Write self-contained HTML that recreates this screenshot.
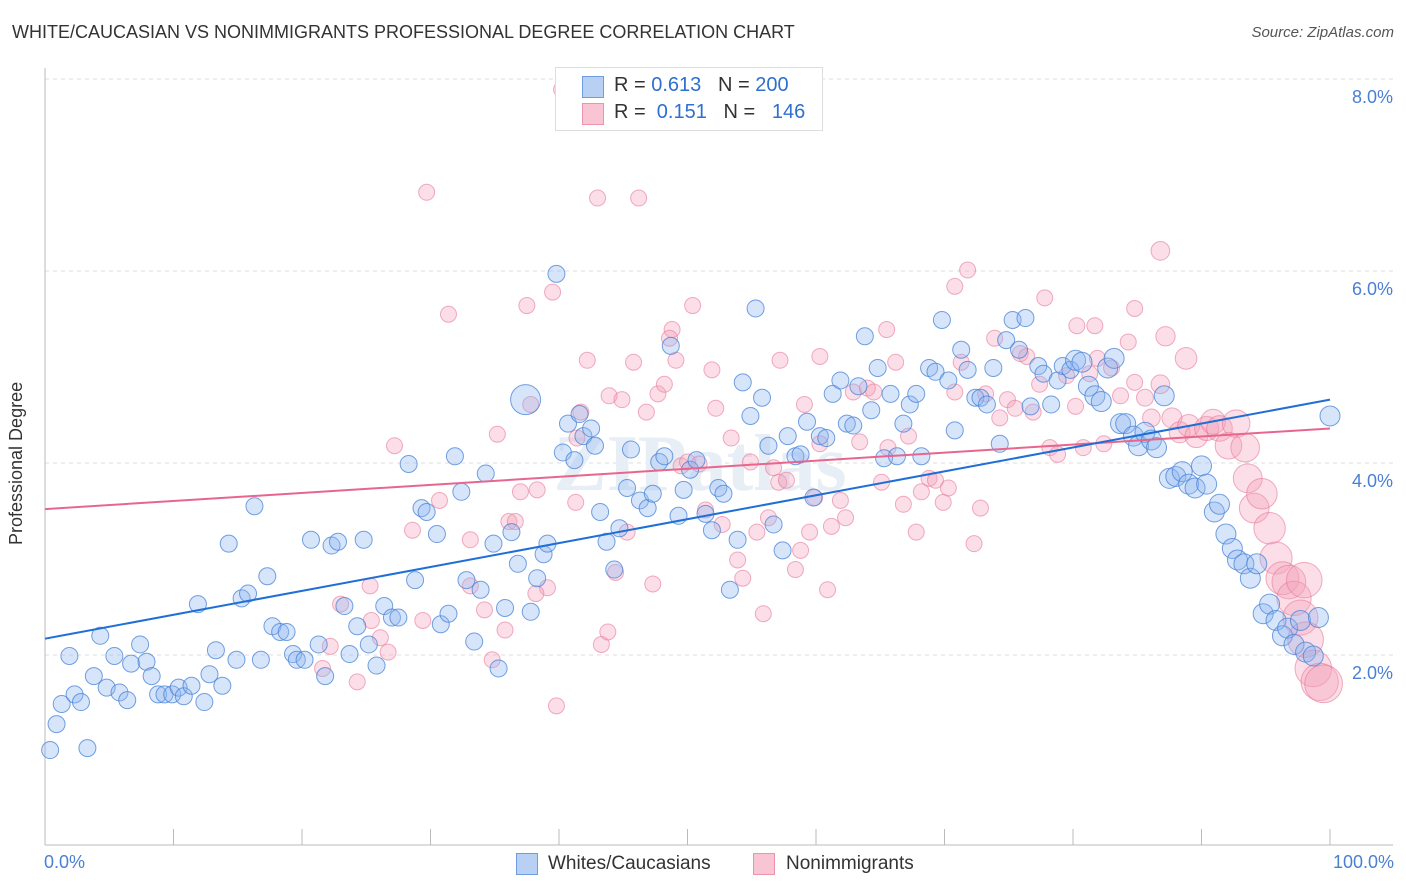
<!DOCTYPE html>
<html><head><meta charset="utf-8">
<style>
body{margin:0;background:#fff;font-family:"Liberation Sans",sans-serif;}
#wrap{position:relative;width:1406px;height:892px;overflow:hidden;}
.t{position:absolute;white-space:nowrap;}
</style></head>
<body>
<div id="wrap">
<div class="t" style="left:12px;top:22px;font-size:18px;color:#333;">WHITE/CAUCASIAN VS NONIMMIGRANTS PROFESSIONAL DEGREE CORRELATION CHART</div>
<div class="t" style="right:12px;top:24px;font-size:15px;color:#555;font-style:italic;">Source: ZipAtlas.com</div>
<svg id="plot" width="1406" height="892" style="position:absolute;left:0;top:0"></svg>
</div>
<script>
const xTicks=[0,10,20,30,40,50,60,70,80,90,100];
const yTicks=[2,4,6,8];
const yTickLabels=["2.0%","4.0%","6.0%","8.0%"];
const blueX=[0.4,0.9,1.3,1.9,2.3,2.8,3.3,3.8,4.3,4.8,5.4,5.8,6.4,6.7,7.4,7.9,8.3,8.8,9.3,9.9,10.4,10.8,11.4,11.9,12.4,12.8,13.3,13.8,14.3,14.9,15.3,15.8,16.3,16.8,17.3,17.7,18.3,18.8,19.3,19.6,20.2,20.7,21.3,21.8,22.3,22.8,23.3,23.7,24.3,24.8,25.2,25.8,26.4,27.0,27.5,28.3,28.8,29.3,29.7,30.5,30.8,31.4,31.9,32.4,32.8,33.4,33.9,34.3,34.9,35.3,35.8,36.3,36.8,37.4,37.8,38.3,38.8,39.1,39.8,40.3,40.7,41.2,41.6,41.9,42.5,42.8,43.2,43.7,44.3,44.7,45.3,45.6,46.3,46.9,47.3,47.8,48.2,48.7,49.3,49.7,50.2,50.7,51.4,51.9,52.4,52.8,53.3,53.9,54.3,54.9,55.3,55.8,56.3,56.7,57.4,57.8,58.4,58.8,59.3,59.8,60.3,60.8,61.3,61.9,62.4,62.9,63.3,63.8,64.3,64.8,65.3,65.8,66.3,66.8,67.3,67.8,68.2,68.8,69.3,69.8,70.3,70.8,71.3,71.8,72.4,72.8,73.3,73.8,74.3,74.8,75.3,75.8,76.3,76.7,77.3,77.7,78.3,78.8,79.2,79.8,80.2,80.7,81.2,81.7,82.2,82.7,83.2,83.7,84.1,84.7,85.1,85.6,86.1,86.5,87.1,87.5,88.0,88.5,89.0,89.5,90.0,90.4,91.0,91.4,91.9,92.4,92.8,93.3,93.8,94.3,94.8,95.3,95.8,96.3,96.7,97.2,97.7,98.1,98.7,99.1,100];
const blueY=[1.01,1.28,1.49,1.99,1.59,1.51,1.03,1.78,2.20,1.66,1.99,1.61,1.53,1.91,2.11,1.93,1.78,1.59,1.59,1.59,1.66,1.57,1.68,2.53,1.51,1.80,2.05,1.68,3.16,1.95,2.59,2.64,3.55,1.95,2.82,2.30,2.24,2.24,2.01,1.95,1.95,3.20,2.11,1.78,3.14,3.18,2.51,2.01,2.30,3.20,2.11,1.89,2.51,2.39,2.39,3.99,2.78,3.53,3.49,3.26,2.32,2.43,4.07,3.70,2.78,2.14,2.68,3.89,3.16,1.86,2.49,3.28,2.95,4.66,2.45,2.80,3.05,3.16,5.97,4.11,4.41,4.03,4.51,4.28,4.36,4.18,3.49,3.18,2.89,3.32,3.74,4.14,3.61,3.53,3.68,4.01,4.07,5.22,3.45,3.72,3.93,4.03,3.47,3.30,3.74,3.68,2.68,3.20,4.84,4.49,5.61,4.68,4.18,3.36,3.09,4.28,4.07,4.09,4.43,3.64,4.28,4.26,4.72,4.86,4.41,4.39,4.80,5.32,4.55,4.99,4.05,4.72,4.07,4.41,4.61,4.72,4.07,4.99,4.95,5.49,4.86,4.34,5.18,4.97,4.68,4.68,4.61,4.99,4.20,5.28,5.49,5.18,5.51,4.59,5.01,4.93,4.61,4.86,5.01,4.97,5.07,5.05,4.80,4.70,4.64,4.99,5.09,4.41,4.41,4.28,4.18,4.32,4.24,4.16,4.70,3.84,3.86,3.91,3.78,3.74,3.97,3.78,3.49,3.57,3.26,3.11,2.99,2.95,2.80,2.95,2.43,2.53,2.36,2.20,2.28,2.11,2.36,2.03,1.99,2.39,4.49];
const pinkX=[29.7,31.4,40.2,43.0,46.2,37.5,39.5,42.2,45.8,48.8,50.4,51.9,57.2,60.3,65.5,70.8,71.8,86.8,77.8,80.3,81.7,84.8,87.2,88.8,27.2,28.6,30.7,33.1,35.2,36.1,36.6,37.0,37.8,38.3,39.1,41.3,41.4,41.7,43.9,44.4,44.9,45.3,46.8,47.3,47.7,48.2,48.6,49.1,49.5,50.0,50.9,51.4,52.2,52.7,53.4,53.9,54.3,54.9,55.4,55.9,56.3,56.7,57.1,57.7,58.4,58.8,59.1,59.5,59.9,60.3,60.9,61.2,61.9,62.3,62.9,63.4,64.0,64.5,65.1,65.6,66.2,66.8,67.2,67.8,68.2,68.8,69.3,69.9,70.3,70.8,71.3,72.3,72.8,73.2,73.9,74.3,74.9,75.5,75.9,76.4,76.9,77.4,78.2,78.8,79.5,80.2,80.8,81.3,81.9,82.4,83.0,83.7,84.3,84.8,85.6,86.1,86.8,87.7,88.3,89.0,89.6,90.4,90.9,91.4,92.1,92.7,93.4,93.6,94.1,94.7,95.3,95.8,96.3,96.8,97.2,97.7,98.1,98.7,99.2,99.5,98.0,21.6,22.2,23.0,24.3,25.4,26.1,26.7,29.4,34.2,34.8,35.8,38.2,39.8,43.3,43.8,25.3,33.1];
const pinkY=[6.82,5.55,7.89,6.76,6.76,5.64,5.78,5.07,5.05,5.39,5.64,4.97,5.07,5.11,5.39,5.84,6.01,6.21,5.72,5.43,5.43,5.61,5.32,5.09,4.18,3.30,3.61,3.20,4.30,3.39,3.39,3.70,4.61,3.72,2.70,3.59,4.26,4.53,4.70,2.86,4.66,3.28,4.53,2.74,4.72,4.82,5.30,5.07,3.97,4.01,3.99,3.51,4.57,3.36,4.26,2.99,2.80,4.01,3.28,2.43,3.43,3.95,3.80,3.82,2.89,3.09,4.61,3.28,3.64,4.20,2.68,3.34,3.61,3.43,4.74,4.22,4.78,4.74,3.80,4.16,5.05,3.57,4.28,3.28,3.70,3.84,3.82,3.59,3.74,4.74,5.05,3.16,3.53,4.72,5.30,4.47,4.66,4.57,5.14,5.11,4.53,4.82,4.16,4.09,4.91,4.59,4.16,4.93,5.09,4.20,4.99,4.70,5.26,4.84,4.68,4.47,4.82,4.47,4.32,4.39,4.28,4.36,4.43,4.36,4.18,4.41,4.16,3.84,3.53,3.68,3.32,3.01,2.80,2.76,2.59,2.39,2.16,1.86,1.72,1.70,2.78,1.86,2.09,2.53,1.72,2.36,2.18,2.03,2.36,2.47,1.95,2.26,2.64,1.47,2.11,2.24,2.72,2.72];
const blueTrend=[2.17,4.66];
const pinkTrend=[3.52,4.36];

const X0=45,X1=1330,Y0=847,PX=96;
function sx(v){return X0+(X1-X0)*v/100;}
function sy(v){return Y0-v*PX;}
const NS="http://www.w3.org/2000/svg";
const svg=document.getElementById('plot');
function mk(tag,attrs,parent){const e=document.createElementNS(NS,tag);for(const k in attrs)e.setAttribute(k,attrs[k]);(parent||svg).appendChild(e);return e;}

// gridlines
yTicks.forEach((v,i)=>{
  const g=mk('line',{x1:45,x2:1393,y1:sy(v),y2:sy(v),stroke:'#ddd','stroke-dasharray':'4,4'});
  
  
  const t=mk('text',{x:1393,y:sy(v)+24,'text-anchor':'end','font-size':'18',fill:'#4a7fd4','font-family':'Liberation Sans, sans-serif'});
  t.textContent=yTickLabels[i];
  
  
});
const tl=mk('line',{x1:45,x2:1393,y1:79,y2:79,stroke:'#ddd','stroke-dasharray':'4,4'});


const ya=mk('line',{x1:45,x2:45,y1:68,y2:845,stroke:'#bbb'});


const xa=mk('line',{x1:45,x2:1393,y1:845,y2:845,stroke:'#bbb'});


xTicks.forEach(v=>{
  const t=mk('line',{x1:sx(v),x2:sx(v),y1:829,y2:845,stroke:'#bbb'});
  
  
});
// watermark
const wm=mk('text',{x:700,y:490,'text-anchor':'middle','font-size':'80',fill:'#e8eef6','font-family':'Liberation Serif, serif','font-weight':'bold'});
wm.textContent='ZIPatlas';



// pink points
pinkX.forEach((x,i)=>{
  const r=x>85?8+(x-85)*0.75:8;
  const c=mk('circle',{cx:sx(x),cy:sy(pinkY[i]),r:r,fill:'rgba(244,160,186,0.35)',stroke:'rgba(232,120,152,0.6)','stroke-width':1});
  
  
});
// blue points
blueX.forEach((x,i)=>{
  let r=x>80?10:8.5;
  if(i===73) r=15;
  const c=mk('circle',{cx:sx(x),cy:sy(blueY[i]),r:r,fill:'rgba(140,180,240,0.35)',stroke:'rgba(70,130,215,0.75)','stroke-width':1});
  
  
});
// trend lines
const pl=mk('line',{x1:sx(0),y1:sy(pinkTrend[0]),x2:sx(100),y2:sy(pinkTrend[1]),stroke:'#e8668e','stroke-width':2});


const bl=mk('line',{x1:sx(0),y1:sy(blueTrend[0]),x2:sx(100),y2:sy(blueTrend[1]),stroke:'#1f6fd6','stroke-width':2});


</script>
<div class="t" style="left:44px;top:852px;font-size:18px;color:#4a7fd4;">0.0%</div>
<div class="t" style="right:12px;top:852px;font-size:18px;color:#4a7fd4;">100.0%</div>
<div class="t" style="left:6px;top:545px;font-size:18px;color:#333;transform:rotate(-90deg);transform-origin:0 0;">Professional Degree</div>

<div style="position:absolute;left:555px;top:67px;width:266px;height:62px;border:1px solid #ddd;background:#fff;font-size:20px;">
 <div style="position:absolute;left:26px;top:8px;width:20px;height:20px;background:#b8d0f4;border:1px solid #6f9ee0;"></div>
 <div class="t" style="left:58px;top:6px;color:#333;">R = <span style="color:#2f6fd0">0.613</span>&nbsp;&nbsp;&nbsp;N = <span style="color:#2f6fd0">200</span></div>
 <div style="position:absolute;left:26px;top:35px;width:20px;height:20px;background:#f9c5d4;border:1px solid #ec93ad;"></div>
 <div class="t" style="left:58px;top:33px;color:#333;">R = &nbsp;<span style="color:#2f6fd0">0.151</span>&nbsp;&nbsp;&nbsp;N = &nbsp;&nbsp;<span style="color:#2f6fd0">146</span></div>
</div>

<div style="position:absolute;left:516px;top:853px;width:22px;height:22px;background:#b8d0f4;border:1px solid #6f9ee0;box-sizing:border-box;"></div>
<div class="t" style="left:548px;top:853px;font-size:19px;color:#333;">Whites/Caucasians</div>
<div style="position:absolute;left:753px;top:853px;width:22px;height:22px;background:#f9c5d4;border:1px solid #ec93ad;box-sizing:border-box;"></div>
<div class="t" style="left:786px;top:853px;font-size:19px;color:#333;">Nonimmigrants</div>
</body></html>
